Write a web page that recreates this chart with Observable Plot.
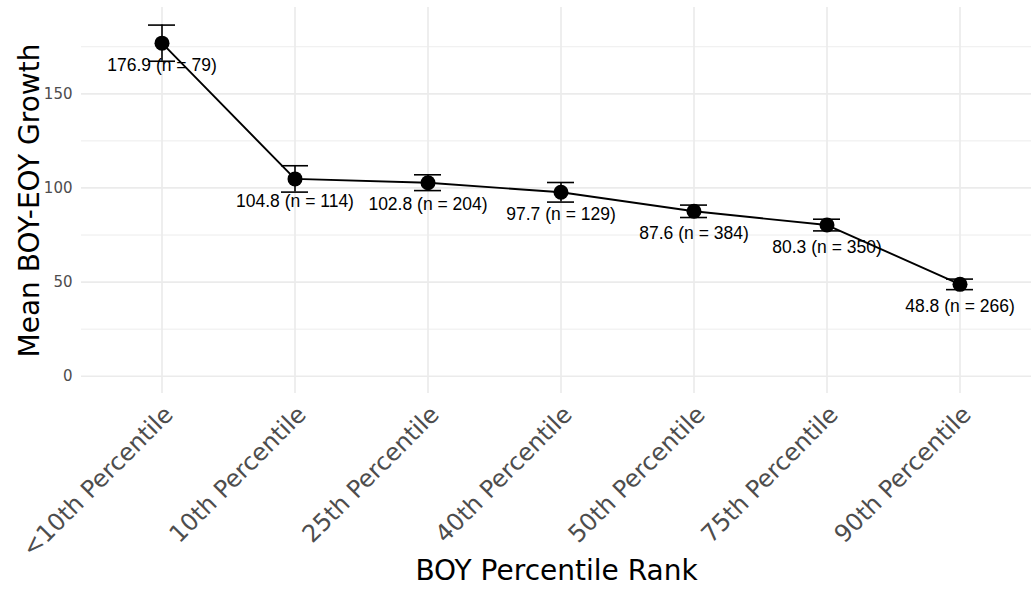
<!DOCTYPE html>
<html>
<head>
<meta charset="utf-8">
<script src="https://cdn.jsdelivr.net/npm/d3@7"></script>
<script src="https://cdn.jsdelivr.net/npm/@observablehq/plot@0.6"></script>
<style>
  html, body { margin: 0; padding: 0; background: #fff; }
</style>
</head>
<body>
<div id="chart"></div>
<script>
const categories = ["<10th Percentile", "10th Percentile", "25th Percentile", "40th Percentile", "50th Percentile", "75th Percentile", "90th Percentile"];
const means = [176.9, 104.8, 102.8, 97.7, 87.6, 80.3, 48.8];
const counts = [79, 114, 204, 129, 384, 350, 266];
const stdErrors = [9.6, 7.0, 4.2, 5.2, 3.3, 3.1, 2.8];
const majorTicks = [0, 50, 100, 150];
const minorTicks = [25, 75, 125, 175];

const data = categories.map((c, i) => ({
  cat: c, mean: means[i], n: counts[i], lo: means[i] - stdErrors[i], hi: means[i] + stdErrors[i],
  label: `${means[i].toFixed(1)} (n = ${counts[i]})`
}));

const chart = Plot.plot({
  width: 1031,
  height: 589,
  marginLeft: 81,
  marginRight: 0,
  marginTop: 7,
  marginBottom: 196,
  style: {fontFamily: "DejaVu Sans", background: "#fff"},
  x: {domain: categories, type: "band", range: [81, 1040], paddingInner: 0.797, paddingOuter: 0.4985, label: null},
  y: {domain: [-9, 196], range: [392.7, 6.7], label: null},
  marks: [
    Plot.gridY(minorTicks, {stroke: "#ebebeb", strokeOpacity: 1, strokeWidth: 0.9}),
    Plot.gridY(majorTicks, {stroke: "#ebebeb", strokeOpacity: 1, strokeWidth: 1.7}),
    Plot.gridX(categories, {stroke: "#ebebeb", strokeOpacity: 1, strokeWidth: 1.7}),
    Plot.axisY(majorTicks, {tickSize: 0, tickPadding: 9, fontSize: 15, fill: "#4d4d4d", label: null}),
    Plot.axisX({tickSize: 0, tickPadding: 14, tickRotate: -45, fontSize: 24, fill: "#4d4d4d", label: null, dx: 7, dy: 3}),
    Plot.ruleX(data, {x: "cat", y1: "lo", y2: "hi", stroke: "black", strokeWidth: 1.6}),
    Plot.tickY(data, {x: "cat", y: "hi", stroke: "black", strokeWidth: 1.6}),
    Plot.tickY(data, {x: "cat", y: "lo", stroke: "black", strokeWidth: 1.6}),
    Plot.line(data, {x: "cat", y: "mean", stroke: "black", strokeWidth: 1.9}),
    Plot.dot(data, {x: "cat", y: "mean", r: 7.5, fill: "black", stroke: "none"}),
    Plot.text(data, {x: "cat", y: "mean", text: "label", dy: 22, fontSize: 17.5, fontFamily: "Liberation Sans", fill: "black", style: "letter-spacing:0.4px"}),
    Plot.text(["BOY Percentile Rank"], {frameAnchor: "bottom", dy: 186, fontSize: 28, fill: "#000", text: d => d}),
    Plot.text(["Mean BOY-EOY Growth"], {frameAnchor: "left", dx: -51, rotate: -90, textAnchor: "middle", fontSize: 28, fill: "#000", text: d => d})
  ]
});
document.getElementById("chart").appendChild(chart);
</script>
</body>
</html>
